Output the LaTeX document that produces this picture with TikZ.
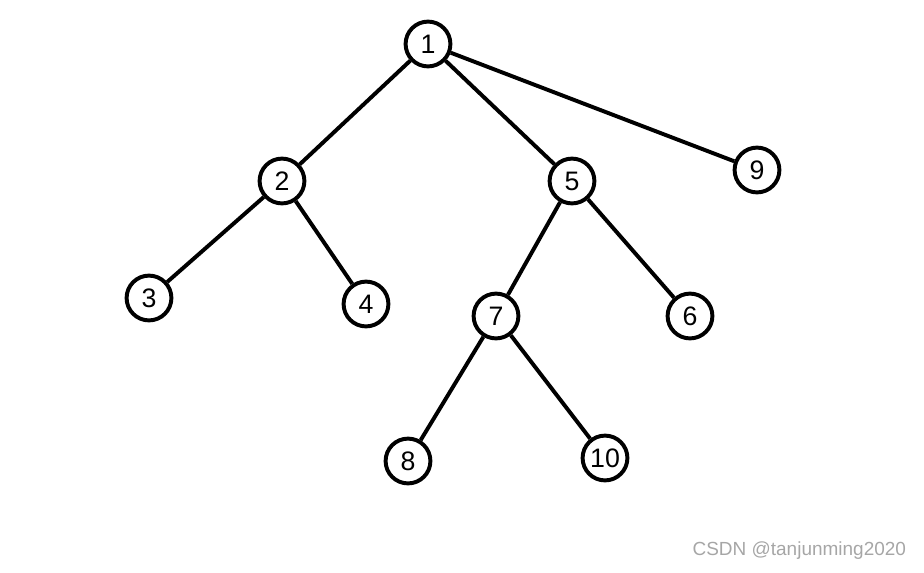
\documentclass[tikz,border=0pt]{standalone}
\usepackage{fontspec}
\setmainfont{Liberation Sans}
\usetikzlibrary{positioning}

\begin{document}
\begin{tikzpicture}[
  x=0.025cm, y=-0.025cm,
  vertex/.style={circle, draw, line width=2.8pt, minimum size=1.12cm, inner sep=0pt, font=\fontsize{19}{22}\selectfont},
  edge/.style={line width=2.8pt},
  mark text/.style={text=gray!70, font=\fontsize{13.5}{16}\selectfont, anchor=east},
]
\useasboundingbox (0,0) rectangle (924,572);

% vertices
\node[vertex] (n1) at (428,44) {1};
\node[vertex] (n2) at (282,181) {2};
\node[vertex] (n5) at (572,181) {5};
\node[vertex] (n9) at (757,170) {9};
\node[vertex] (n3) at (149,298) {3};
\node[vertex] (n4) at (366,304) {4};
\node[vertex] (n7) at (496,316) {7};
\node[vertex] (n6) at (690,316) {6};
\node[vertex] (n8) at (408,461) {8};
\node[vertex] (n10) at (605,458) {10};

% edges
\draw[edge] (n1) -- (n2);
\draw[edge] (n1) -- (n5);
\draw[edge] (n1) -- (n9);
\draw[edge] (n2) -- (n3);
\draw[edge] (n2) -- (n4);
\draw[edge] (n5) -- (n7);
\draw[edge] (n5) -- (n6);
\draw[edge] (n7) -- (n8);
\draw[edge] (n7) -- (n10);

% watermark
\node[mark text] (wm) at (911,551) {CSDN @tanjunming2020};
\end{tikzpicture}
\end{document}
